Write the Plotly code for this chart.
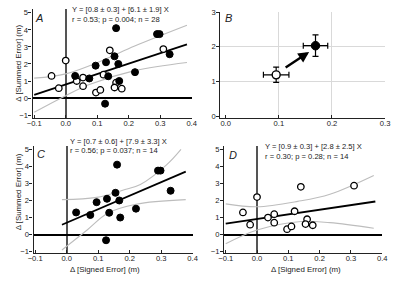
import plotly.graph_objects as go

W, H = 395, 281
FONT = "Liberation Sans, Arial, sans-serif"

# ---------------- data ----------------
# Panel C (filled) and D (open); panel A shows both
c_x = [0.03, 0.075, 0.095, 0.128, 0.135, 0.125, 0.16, 0.155, 0.167, 0.17, 0.22, 0.29, 0.298, 0.33]
c_y = [1.3, 1.15, 1.9, 2.1, 1.28, -0.33, 4.1, 2.45, 2.0, 1.0, 1.52, 3.75, 3.75, 2.57]
d_x = [-0.045, -0.022, 0.0, 0.035, 0.055, 0.055, 0.096, 0.11, 0.12, 0.14, 0.16, 0.155, 0.178, 0.31]
d_y = [1.3, 0.58, 2.2, 1.0, 1.2, 0.7, 0.32, 0.48, 1.37, 2.8, 0.9, 0.62, 0.55, 2.87]

# regression lines (endpoints)
a_fit_x = [-0.1, 0.385]
a_fit_y = [0.19, 3.15]
c_fit_x = [-0.015, 0.378]
c_fit_y = [0.58, 3.69]
d_fit_x = [-0.1, 0.378]
d_fit_y = [0.64, 1.94]

# confidence bands
a_up_x = [-0.1, 0.0, 0.116, 0.219, 0.385]
a_up_y = [1.17, 1.42, 2.2, 3.05, 4.27]
a_lo_x = [-0.1, 0.0, 0.075, 0.219, 0.385]
a_lo_y = [-0.83, 0.14, 0.79, 1.61, 2.09]
c_up_x = [-0.015, 0.095, 0.178, 0.234, 0.317, 0.363]
c_up_y = [2.05, 2.18, 2.6, 2.94, 4.09, 5.0]
c_lo_x = [-0.015, 0.065, 0.13, 0.22, 0.378]
c_lo_y = [-0.9, 0.27, 1.25, 1.78, 2.05]
d_up_x = [-0.1, 0.0, 0.13, 0.233, 0.373]
d_up_y = [1.8, 1.63, 1.95, 2.37, 3.47]
d_lo_x = [-0.1, 0.0, 0.14, 0.233, 0.373]
d_lo_y = [-0.54, 0.27, 0.77, 0.7, 0.37]

# Panel B means with errors (open -> filled)
b_x = [0.095, 0.169]
b_y = [1.19, 2.03]
b_xerr = [0.024, 0.023]
b_yerr = [0.22, 0.31]
b_arrow_tail = (0.11, 1.37)
b_arrow_head = (0.157, 1.85)

eq_texts = {
    "A": ["Y = [0.8 \u00b1 0.3] + [6.1 \u00b1 1.9] X", "r = 0.53; p = 0.004; n = 28"],
    "C": ["Y = [0.7 \u00b1 0.6] + [7.9 \u00b1 3.3] X", "r = 0.56; p = 0.037; n = 14"],
    "D": ["Y = [0.9 \u00b1 0.3] + [2.8 \u00b1 2.5] X", "r = 0.30; p = 0.28; n = 14"],
}
y_title = "\u0394 [Summed Error] (m)"
x_title = "\u0394 [Signed Error] (m)"

# ---------------- figure ----------------
fig = go.Figure()

def filled(x, y, xa, ya):
    return go.Scatter(x=x, y=y, mode="markers", xaxis=xa, yaxis=ya,
                      marker=dict(size=7, color="black", line=dict(color="black", width=1)))

def opened(x, y, xa, ya):
    return go.Scatter(x=x, y=y, mode="markers", xaxis=xa, yaxis=ya,
                      marker=dict(size=6.5, color="white", line=dict(color="black", width=1.3)))

def band(x, y, xa, ya):
    return go.Scatter(x=x, y=y, mode="lines", xaxis=xa, yaxis=ya,
                      line=dict(color="#bdbdbd", width=1.1, shape="spline"))

def fit(x, y, xa, ya):
    return go.Scatter(x=x, y=y, mode="lines", xaxis=xa, yaxis=ya,
                      line=dict(color="black", width=1.8))

# Panel A
for tr in [band(a_up_x, a_up_y, "x", "y"), band(a_lo_x, a_lo_y, "x", "y"),
           fit(a_fit_x, a_fit_y, "x", "y"),
           opened(d_x, d_y, "x", "y"), filled(c_x, c_y, "x", "y")]:
    fig.add_trace(tr)
# Panel C
for tr in [band(c_up_x, c_up_y, "x3", "y3"), band(c_lo_x, c_lo_y, "x3", "y3"),
           fit(c_fit_x, c_fit_y, "x3", "y3"), filled(c_x, c_y, "x3", "y3")]:
    fig.add_trace(tr)
# Panel D
for tr in [band(d_up_x, d_up_y, "x4", "y4"), band(d_lo_x, d_lo_y, "x4", "y4"),
           fit(d_fit_x, d_fit_y, "x4", "y4"), opened(d_x, d_y, "x4", "y4")]:
    fig.add_trace(tr)
# Panel B
fig.add_trace(go.Scatter(
    x=b_x[:1], y=b_y[:1], mode="markers", xaxis="x2", yaxis="y2",
    error_x=dict(type="data", array=b_xerr[:1], color="black", thickness=1.2, width=3),
    error_y=dict(type="data", array=b_yerr[:1], color="black", thickness=1.2, width=3),
    marker=dict(size=8, color="white", line=dict(color="black", width=1.4))))
fig.add_trace(go.Scatter(
    x=b_x[1:], y=b_y[1:], mode="markers", xaxis="x2", yaxis="y2",
    error_x=dict(type="data", array=b_xerr[1:], color="black", thickness=1.2, width=3),
    error_y=dict(type="data", array=b_yerr[1:], color="black", thickness=1.2, width=3),
    marker=dict(size=8.5, color="black", line=dict(color="black", width=1))))

def dxp(a, b):
    return [a / W, b / W]

def dyp(top, bottom):
    return [1 - bottom / H, 1 - top / H]

tickfont = dict(family=FONT, size=7.6, color="#222")

def xax(domain, rng, anchor, zeroline, dtick, minor_grid=None):
    d = dict(domain=domain, range=rng, anchor=anchor, showgrid=False,
             zeroline=zeroline, zerolinecolor="#555", zerolinewidth=1.6,
             showline=True, linecolor="#222", linewidth=1.3,
             ticks="inside", ticklen=3, tickwidth=1, tickcolor="#222",
             tick0=0, dtick=dtick, tickformat=".1f", tickfont=tickfont,
             ticklabelstandoff=-2)
    if minor_grid is not None:
        d["minor"] = dict(tickvals=minor_grid, showgrid=True, gridcolor="#d9d9d9", gridwidth=1)
    return d

def yax(domain, rng, anchor, zeroline, minor_grid=None):
    d = dict(domain=domain, range=rng, anchor=anchor, showgrid=False,
             zeroline=zeroline, zerolinecolor="black", zerolinewidth=2,
             showline=True, linecolor="#222", linewidth=1.3,
             ticks="outside", ticklen=3, tickwidth=1, tickcolor="#222",
             tick0=0, dtick=1, tickformat="d", tickfont=tickfont,
             ticklabelstandoff=-1)
    if minor_grid is not None:
        d["minor"] = dict(tickvals=minor_grid, showgrid=True, gridcolor="#d9d9d9", gridwidth=1)
    return d

fig.update_layout(
    width=W, height=H, margin=dict(l=0, r=0, t=0, b=0),
    paper_bgcolor="white", plot_bgcolor="white", showlegend=False,
    font=dict(family=FONT, color="#222"),
    xaxis=xax(dxp(27.4, 191), [-0.105, 0.4], "y", True, 0.1),
    yaxis=yax(dyp(5.5, 116.6), [-1.15, 5.2], "x", True),
    xaxis2=xax(dxp(220.5, 390), [-0.01, 0.3], "y2", False, 0.1, minor_grid=[0.1, 0.2]),
    yaxis2=yax(dyp(8.3, 117.1), [-0.06, 3.0], "x2", False, minor_grid=[1, 2]),
    xaxis3=xax(dxp(28.4, 192), [-0.105, 0.4], "y3", True, 0.1),
    yaxis3=yax(dyp(145.5, 255.4), [-1.08, 5.2], "x3", True),
    xaxis4=xax(dxp(224.4, 387), [-0.105, 0.4], "y4", True, 0.1),
    yaxis4=yax(dyp(145.5, 255.4), [-1.08, 5.2], "x4", True),
)

ann = []

def txt(px, py, text, size, xanchor="left", italic=False, angle=0, color="#222"):
    t = f"<i>{text}</i>" if italic else text
    ann.append(dict(x=px / W, y=1 - py / H, xref="paper", yref="paper", text=t,
                    showarrow=False, xanchor=xanchor, yanchor="middle", textangle=angle,
                    font=dict(family=FONT, size=size, color=color)))

# panel letters
txt(34, 14, "A", 11, "center", italic=True)
txt(228.5, 14, "B", 11, "center", italic=True)
txt(35.5, 154, "C", 11, "center", italic=True)
txt(233, 154.5, "D", 11, "center", italic=True)

# equations
txt(65.5, 5.5, eq_texts["A"][0], 7.6)
txt(65.5, 15.5, eq_texts["A"][1], 7.6)
txt(64, 140.5, eq_texts["C"][0], 7.6)
txt(64, 150.5, eq_texts["C"][1], 7.6)
txt(264, 146.5, eq_texts["D"][0], 7.6)
txt(264, 156, eq_texts["D"][1], 7.6)

# axis titles
txt(12.5, 61, y_title, 7.9, "center", angle=-90)
txt(12.5, 193, y_title, 7.9, "center", angle=-90)
txt(102, 272, x_title, 7.9, "center")
txt(309, 272, x_title, 7.9, "center")

# arrow in panel B
ann.append(dict(x=b_arrow_head[0], y=b_arrow_head[1], ax=b_arrow_tail[0], ay=b_arrow_tail[1],
                xref="x2", yref="y2", axref="x2", ayref="y2", text="", showarrow=True,
                arrowhead=2, arrowsize=0.9, arrowwidth=2.4, arrowcolor="black"))

fig.update_layout(annotations=ann)
fig.write_html("out.html")
